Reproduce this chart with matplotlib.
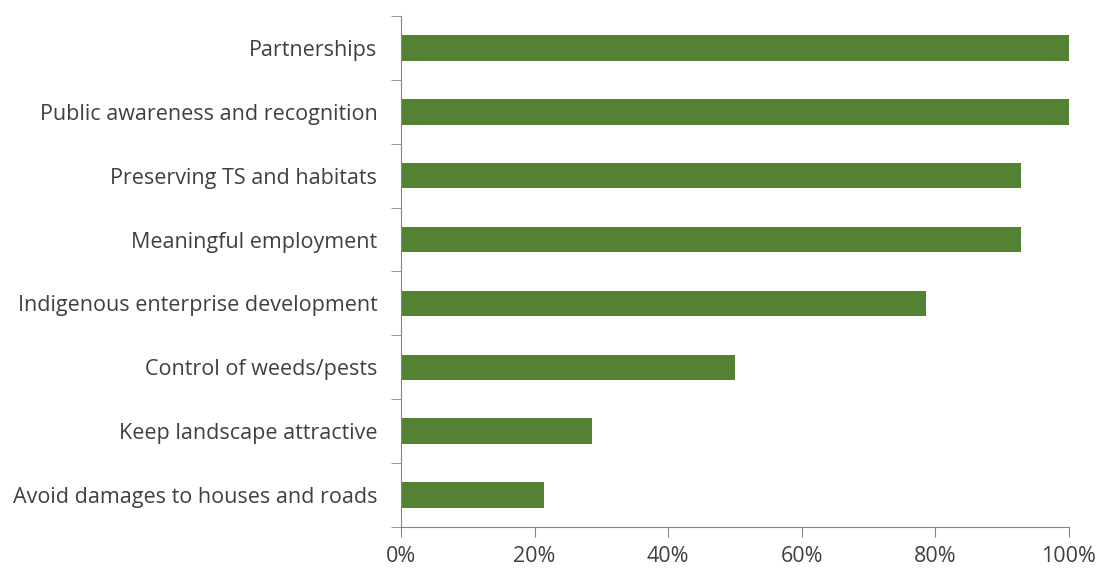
import numpy as np
import matplotlib.pyplot as plt
from matplotlib.ticker import PercentFormatter, FixedLocator

plt.rcParams['font.family'] = ['Open Sans', 'DejaVu Sans']

categories = [
    'Partnerships',
    'Public awareness and recognition',
    'Preserving TS and habitats',
    'Meaningful employment',
    'Indigenous enterprise development',
    'Control of weeds/pests',
    'Keep landscape attractive',
    'Avoid damages to houses and roads',
]
# share of the 14 respondents naming each benefit
shares = [100.0, 100.0, 92.86, 92.86, 78.57, 50.0, 28.57, 21.43]
xticks = [0, 20, 40, 60, 80, 100]

green = '#548235'
axis_grey = '#868686'
text_grey = '#404040'

fig = plt.figure(figsize=(11, 5.69), dpi=100)
ax = fig.add_axes([0.3645, 0.0738, 0.6073, 0.8981])

y = np.arange(len(categories))
ax.barh(y, shares, height=0.4, color=green)
ax.set_ylim(len(categories) - 0.5, -0.5)
ax.set_xlim(0, 100)

ax.set_yticks(y)
ax.set_yticklabels(categories, fontsize=15.5, color=text_grey)
ax.yaxis.set_minor_locator(FixedLocator(np.arange(len(categories) + 1) - 0.5))
ax.tick_params(axis='y', which='major', length=0, pad=17)
ax.tick_params(axis='y', which='minor', length=7, color=axis_grey, direction='out')

ax.set_xticks(xticks)
ax.xaxis.set_major_formatter(PercentFormatter(decimals=0))
ax.tick_params(axis='x', length=7, color=axis_grey, labelsize=15.5,
               labelcolor=text_grey, pad=7)

for side in ['top', 'right']:
    ax.spines[side].set_visible(False)
for side in ['left', 'bottom']:
    ax.spines[side].set_color(axis_grey)

fig.savefig('out.png', dpi=100)
